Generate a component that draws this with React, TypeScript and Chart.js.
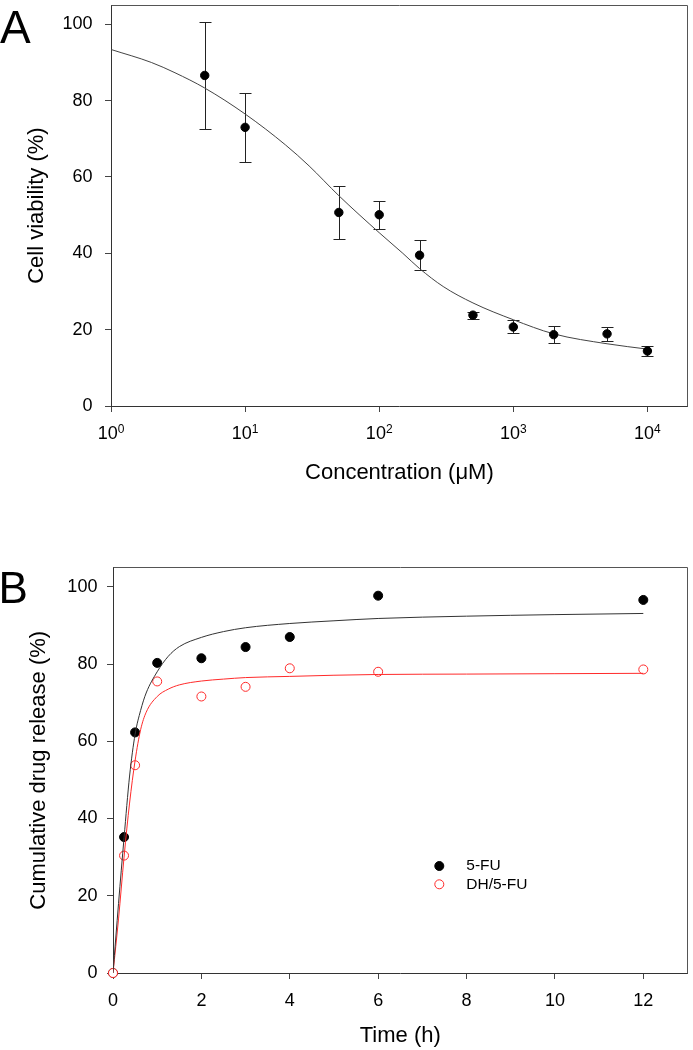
import React, { useEffect, useRef } from 'react';
import { Chart, registerables } from 'chart.js';

Chart.register(...registerables);

// ---------- Panel A data ----------
const concA = [5, 10, 50, 100, 200, 500, 1000, 2000, 5000, 10000];
const viabilityA = [86.6, 73.0, 50.7, 50.1, 39.5, 23.8, 20.7, 18.7, 18.9, 14.4];
const viabilityErrA = [14, 9, 7, 3.7, 4, 0.9, 1.7, 2.3, 1.8, 1.2];
const fitConcA = [1, 2, 3, 5, 10, 20, 30, 50, 100, 150, 200, 300, 500, 1000, 2000, 5000, 10000];
const fitViabilityA = [93.4, 90.0, 87.3, 83.3, 76.5, 68.4, 62.9, 55.1, 45.4, 40.0, 36.0, 31.3, 27.0, 22.6, 18.9, 16.3, 14.9];
const xTicksA = [1, 10, 100, 1000, 10000];
const xTickBasesA = ['10', '10', '10', '10', '10'];
const xTickExpsA = ['0', '1', '2', '3', '4'];
const yTicksA = [0, 20, 40, 60, 80, 100];

// ---------- Panel B data ----------
const timeB = [0, 0.25, 0.5, 1, 2, 3, 4, 6, 12];
const release5FU = [0, 35.2, 62.3, 80.3, 81.5, 84.4, 87.0, 97.7, 96.6];
const releaseDH = [0, 30.4, 53.8, 75.5, 71.6, 74.1, 78.9, 78.0, 78.6];
const fitTimeB = [0, 0.125, 0.25, 0.375, 0.5, 0.625, 0.75, 1, 1.25, 1.5, 2, 2.5, 3, 4, 5, 6, 8, 10, 12];
const fit5FU = [0, 18, 35, 51, 61.8, 68, 72.5, 78, 82, 84.5, 86.9, 88.4, 89.4, 90.5, 91.2, 91.8, 92.4, 92.8, 93.1];
const fitDH = [0, 14, 30, 44, 55, 63, 67.5, 71.6, 73.5, 74.6, 75.6, 76.1, 76.5, 76.8, 77.1, 77.3, 77.4, 77.5, 77.6];
const xTicksB = [0, 2, 4, 6, 8, 10, 12];
const yTicksB = [0, 20, 40, 60, 80, 100];
const seriesNamesB = ['5-FU', 'DH/5-FU'];

const FONT = "'Liberation Sans', Arial, Helvetica, sans-serif";
const RED = '#ff2a2a';

const toXY = (xs: number[], ys: number[]) => xs.map((x, i) => ({ x, y: ys[i] }));

function zeroPadding(s: any) {
  s.paddingTop = 0;
  s.paddingBottom = 0;
  s.paddingLeft = 0;
  s.paddingRight = 0;
}

const framePlugin = {
  id: 'frameBox',
  beforeDatasetsDraw(chart: any, _args: any, opts: any) {
    const { ctx, chartArea } = chart;
    ctx.save();
    ctx.strokeStyle = opts.color || '#555';
    ctx.lineWidth = 1;
    const top = Math.floor(chartArea.top) + 0.5;
    const right = Math.floor(chartArea.right) + 0.5;
    ctx.beginPath();
    ctx.moveTo(Math.floor(chartArea.left) + 0.5, top);
    ctx.lineTo(right, top);
    ctx.lineTo(right, Math.floor(chartArea.bottom) + 0.5);
    ctx.stroke();
    ctx.restore();
  },
};

const errorBarsPlugin = {
  id: 'errorBars',
  beforeDatasetsDraw(chart: any, _args: any, opts: any) {
    if (!opts || !opts.errors) return;
    const { ctx, scales } = chart;
    const ds = chart.data.datasets[opts.datasetIndex];
    ctx.save();
    ctx.strokeStyle = opts.color;
    ctx.lineWidth = 1;
    ds.data.forEach((p: any, i: number) => {
      const e = opts.errors[i];
      const x = Math.round(scales.x.getPixelForValue(p.x)) + 0.5;
      const yt = Math.round(scales.y.getPixelForValue(p.y + e)) + 0.5;
      const yb = Math.round(scales.y.getPixelForValue(p.y - e)) + 0.5;
      ctx.beginPath();
      ctx.moveTo(x, yt);
      ctx.lineTo(x, yb);
      ctx.moveTo(x - opts.cap, yt);
      ctx.lineTo(x + opts.cap, yt);
      ctx.moveTo(x - opts.cap, yb);
      ctx.lineTo(x + opts.cap, yb);
      ctx.stroke();
    });
    ctx.restore();
  },
};

const panelLabelPlugin = {
  id: 'panelLabel',
  afterDraw(chart: any, _args: any, opts: any) {
    if (!opts || !opts.text) return;
    const { ctx } = chart;
    ctx.save();
    ctx.fillStyle = '#000';
    ctx.font = `${opts.size}px ${FONT}`;
    ctx.textAlign = 'left';
    ctx.textBaseline = 'alphabetic';
    ctx.fillText(opts.text, opts.x, opts.y);
    ctx.restore();
  },
};

// Draws "10" with a superscript exponent at each x tick of the scale.
const superscriptTicksPlugin = {
  id: 'supTicks',
  afterDraw(chart: any, _args: any, opts: any) {
    if (!opts || !opts.bases) return;
    const { ctx } = chart;
    const sc = chart.scales.x;
    ctx.save();
    ctx.fillStyle = '#000';
    ctx.textAlign = 'left';
    ctx.textBaseline = 'alphabetic';
    sc.ticks.forEach((t: any, i: number) => {
      const px = sc.getPixelForValue(t.value);
      const baseFont = `${opts.size}px ${FONT}`;
      const supFont = `${opts.supSize}px ${FONT}`;
      ctx.font = baseFont;
      const wb = ctx.measureText(opts.bases[i]).width;
      ctx.font = supFont;
      const we = ctx.measureText(opts.exps[i]).width;
      const x0 = px - (wb + we) / 2;
      ctx.font = baseFont;
      ctx.fillText(opts.bases[i], x0, sc.top + opts.baseline);
      ctx.font = supFont;
      ctx.fillText(opts.exps[i], x0 + wb, sc.top + opts.supBaseline);
    });
    ctx.restore();
  },
};

const markerLegendPlugin = {
  id: 'markerLegend',
  afterDraw(chart: any, _args: any, opts: any) {
    if (!opts || !opts.items) return;
    const { ctx, chartArea } = chart;
    opts.items.forEach((dsIndex: number, row: number) => {
      const ds = chart.data.datasets[dsIndex];
      const cx = chartArea.left + opts.offsetX;
      const cy = chartArea.top + opts.offsetY + row * opts.rowGap;
      ctx.save();
      ctx.beginPath();
      ctx.arc(cx, cy, ds.pointRadius, 0, Math.PI * 2);
      ctx.fillStyle = ds.pointBackgroundColor;
      ctx.fill();
      ctx.lineWidth = ds.pointBorderWidth;
      ctx.strokeStyle = ds.pointBorderColor;
      ctx.stroke();
      ctx.fillStyle = '#000';
      ctx.font = `${opts.fontSize}px ${FONT}`;
      ctx.textAlign = 'left';
      ctx.textBaseline = 'middle';
      ctx.fillText(ds.label, cx + opts.textGap, cy);
      ctx.restore();
    });
  },
};

function axisCommon(tickPadding: number) {
  return {
    grid: { display: true, drawOnChartArea: false, drawTicks: true, tickLength: 6, color: '#444', lineWidth: 1 },
    border: { display: true, color: '#333', width: 1 },
    ticks: {
      autoSkip: false,
      maxRotation: 0,
      minRotation: 0,
      padding: tickPadding,
      color: '#000',
      font: { family: FONT, size: 18 },
    },
  };
}

export default function App() {
  const refA = useRef<HTMLCanvasElement | null>(null);
  const refB = useRef<HTMLCanvasElement | null>(null);

  useEffect(() => {
    Chart.defaults.font.family = FONT;
    Chart.defaults.color = '#000';

    const cA = axisCommon(10);
    const cAy = axisCommon(12.5);
    const chartA = new Chart(refA.current as HTMLCanvasElement, {
      type: 'line',
      data: {
        datasets: [
          {
            type: 'line',
            label: 'data',
            data: toXY(concA, viabilityA),
            showLine: false,
            pointRadius: 4.2,
            pointBackgroundColor: '#000',
            pointBorderColor: '#000',
            pointBorderWidth: 1,
            clip: false as any,
          },
          {
            type: 'line',
            label: 'fit',
            data: toXY(fitConcA, fitViabilityA),
            borderColor: '#444',
            borderWidth: 1,
            pointRadius: 0,
            cubicInterpolationMode: 'monotone',
            fill: false,
          },
        ],
      },
      options: {
        responsive: false,
        maintainAspectRatio: false,
        animation: false,
        devicePixelRatio: 1,
        layout: { padding: { top: 0.5, right: 2.5, bottom: 0, left: 0 } },
        plugins: {
          legend: { display: false },
          tooltip: { enabled: false },
          errorBars: { datasetIndex: 0, errors: viabilityErrA, cap: 6, color: '#222' },
          panelLabel: { text: 'A', x: 0, y: 43.3, size: 46 },
          frameBox: { color: '#555' },
          supTicks: { bases: xTickBasesA, exps: xTickExpsA, size: 18, supSize: 12, baseline: 33, supBaseline: 26.5 },
        } as any,
        scales: {
          x: {
            type: 'logarithmic',
            min: 1,
            max: 20000,
            ...cA,
            ticks: { ...cA.ticks, display: false },
            afterBuildTicks: (s: any) => {
              s.ticks = xTicksA.map((v) => ({ value: v }));
            },
            afterFit: (s: any) => {
              s.height = 94;
              zeroPadding(s);
            },
            title: {
              display: true,
              text: 'Concentration (\u03BCM)',
              color: '#000',
              font: { family: FONT, size: 22 },
              padding: { top: 0, bottom: 13.7 },
            },
          } as any,
          y: {
            type: 'linear',
            min: 0,
            max: 105,
            ...cAy,
            afterBuildTicks: (s: any) => {
              s.ticks = yTicksA.map((v) => ({ value: v }));
            },
            afterFit: (s: any) => {
              s.width = 111;
              zeroPadding(s);
            },
            title: {
              display: true,
              text: 'Cell viability (%)',
              color: '#000',
              font: { family: FONT, size: 22 },
              padding: { top: 24, bottom: 0 },
            },
          } as any,
        },
      },
      plugins: [framePlugin, errorBarsPlugin, panelLabelPlugin, superscriptTicksPlugin],
    } as any);

    const cB = axisCommon(11);
    const cBy = axisCommon(9.6);
    const chartB = new Chart(refB.current as HTMLCanvasElement, {
      type: 'line',
      data: {
        datasets: [
          {
            type: 'line',
            label: 'fit 5-FU',
            data: toXY(fitTimeB, fit5FU),
            borderColor: '#333',
            borderWidth: 1,
            pointRadius: 0,
            cubicInterpolationMode: 'monotone',
            fill: false,
          },
          {
            type: 'line',
            label: 'fit DH/5-FU',
            data: toXY(fitTimeB, fitDH),
            borderColor: RED,
            borderWidth: 1,
            pointRadius: 0,
            cubicInterpolationMode: 'monotone',
            fill: false,
          },
          {
            type: 'line',
            label: seriesNamesB[1],
            data: toXY(timeB, releaseDH),
            showLine: false,
            pointRadius: 4.5,
            pointBackgroundColor: '#fff',
            pointBorderColor: RED,
            pointBorderWidth: 1,
            clip: false as any,
          },
          {
            type: 'line',
            label: seriesNamesB[0],
            data: toXY(timeB, release5FU),
            showLine: false,
            pointRadius: 4.5,
            pointBackgroundColor: '#000',
            pointBorderColor: '#000',
            pointBorderWidth: 1,
            clip: false as any,
          },
        ],
      },
      options: {
        responsive: false,
        maintainAspectRatio: false,
        animation: false,
        devicePixelRatio: 1,
        layout: { padding: { top: 67.5, right: 1.5, bottom: 0, left: 0 } },
        plugins: {
          legend: { display: false },
          tooltip: { enabled: false },
          panelLabel: { text: 'B', x: -1.5, y: 103, size: 44 },
          frameBox: { color: '#555' },
          markerLegend: { items: [3, 2], offsetX: 326.3, offsetY: 298.5, rowGap: 18.3, textGap: 27, fontSize: 15.5 },
        } as any,
        scales: {
          x: {
            type: 'linear',
            min: 0,
            max: 13,
            ...cB,
            afterBuildTicks: (s: any) => {
              s.ticks = xTicksB.map((v) => ({ value: v }));
            },
            afterFit: (s: any) => {
              s.height = 77;
              zeroPadding(s);
            },
            title: {
              display: true,
              text: 'Time (h)',
              color: '#000',
              font: { family: FONT, size: 22 },
              padding: { top: 0, bottom: 1.1 },
            },
          } as any,
          y: {
            type: 'linear',
            min: 0,
            max: 105,
            ...cBy,
            afterBuildTicks: (s: any) => {
              s.ticks = yTicksB.map((v) => ({ value: v }));
            },
            afterFit: (s: any) => {
              s.width = 113;
              zeroPadding(s);
            },
            title: {
              display: true,
              text: 'Cumulative drug release (%)',
              color: '#000',
              font: { family: FONT, size: 22 },
              padding: { top: 26, bottom: 0 },
            },
          } as any,
        },
      },
      plugins: [framePlugin, panelLabelPlugin, markerLegendPlugin],
    } as any);

    return () => {
      chartA.destroy();
      chartB.destroy();
    };
  }, []);

  return (
    <div style={{ position: 'absolute', left: 0, top: 0, width: 693, height: 1050, background: '#fff' }}>
      <div style={{ position: 'absolute', left: 0, top: 0, width: 693, height: 500 }}>
        <canvas ref={refA} width={693} height={500} style={{ display: 'block' }} />
      </div>
      <div style={{ position: 'absolute', left: 0, top: 500, width: 693, height: 550 }}>
        <canvas ref={refB} width={693} height={550} style={{ display: 'block' }} />
      </div>
    </div>
  );
}
